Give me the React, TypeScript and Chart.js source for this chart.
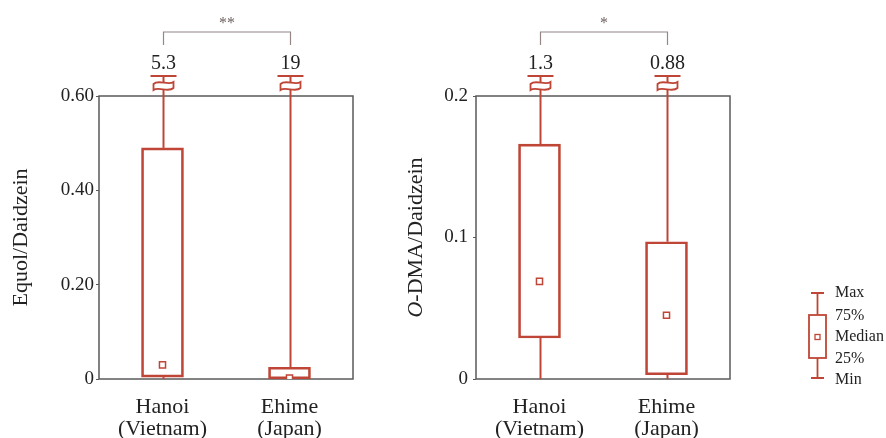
import React, { useEffect, useRef } from "react";
import { Chart, registerables } from "chart.js";
Chart.register(...registerables);

const categories = [["Hanoi", "(Vietnam)"], ["Ehime", "(Japan)"]];

// Equol/Daidzein
const equolMin = [0, 0];
const equolQ1 = [0.004, 0.0005];
const equolMedian = [0.03, 0.002];
const equolQ3 = [0.49, 0.025];
const equolMax = [5.3, 19];
const equolMaxLabels = ["5.3", "19"];
const equolTicks = [0, 0.2, 0.4, 0.6];
const equolTickLabels = ["0", "0.20", "0.40", "0.60"];
const equolSignif = "**";

// O-DMA/Daidzein
const odmaMin = [0, 0];
const odmaQ1 = [0.029, 0.003];
const odmaMedian = [0.069, 0.045];
const odmaQ3 = [0.166, 0.097];
const odmaMax = [1.3, 0.88];
const odmaMaxLabels = ["1.3", "0.88"];
const odmaTicks = [0, 0.1, 0.2];
const odmaTickLabels = ["0", "0.1", "0.2"];
const odmaSignif = "*";

const legendLabels = ["Max", "75%", "Median", "25%", "Min"];

const RED = "#bf4636";
const FRAME = "#5a5a5a";
const TEXT = "#222";
const BRACKET = "#968686";
const SERIF = "'Liberation Serif', 'Times New Roman', serif";

type Params = {
  min: number[]; q1: number[]; median: number[]; q3: number[]; max: number[];
  maxLabels: string[]; ticks: number[]; tickLabels: string[]; signif: string;
  yMax: number; titleParts: { text: string; italic: boolean }[];
  yWidth: number; padRight: number; titleX: number; tickPad: number;
  legend?: { offsetX: number };
};

function makePlugin(p: Params) {
  return {
    id: "boxExtras",
    beforeDatasetsDraw(chart: any) {
      const { ctx, chartArea: a } = chart;
      ctx.save();
      ctx.strokeStyle = FRAME;
      ctx.lineWidth = 1.5;
      ctx.strokeRect(a.left, a.top, a.right - a.left, a.bottom - a.top);
      ctx.restore();
    },
    afterDatasetsDraw(chart: any) {
      const { ctx, chartArea: a, scales } = chart;
      const xs = scales.x, ys = scales.y;
      ctx.save();
      const centers: number[] = [];
      p.max.forEach((mx, i) => {
        const px = Math.round(xs.getPixelForValue(i)) + 0.5;
        centers.push(px);
        const q3 = ys.getPixelForValue(p.q3[i]);
        const q1 = ys.getPixelForValue(p.q1[i]);
        const mn = ys.getPixelForValue(p.min[i]);
        const broken = mx > ys.max;
        const capY = broken ? a.top - 20 : ys.getPixelForValue(mx);
        ctx.strokeStyle = RED;
        ctx.lineWidth = 2;
        ctx.beginPath(); ctx.moveTo(px, q3); ctx.lineTo(px, capY); ctx.stroke();
        if (Math.abs(mn - q1) > 1) { ctx.beginPath(); ctx.moveTo(px, q1); ctx.lineTo(px, mn); ctx.stroke(); }
        if (broken) {
          ctx.beginPath(); ctx.moveTo(px - 13, capY); ctx.lineTo(px + 13, capY); ctx.stroke();
          const g1 = a.top - 15, g2 = a.top - 5, hw = 10;
          ctx.fillStyle = "#fff";
          ctx.lineWidth = 1.8;
          ctx.beginPath();
          ctx.moveTo(px - hw, g1 + 3);
          ctx.bezierCurveTo(px - hw / 2, g1 - 2, px + hw / 2, g1 + 5, px + hw, g1 + 1);
          ctx.lineTo(px + hw, g2 - 3);
          ctx.bezierCurveTo(px + hw / 2, g2 + 2, px - hw / 2, g2 - 5, px - hw, g2 - 1);
          ctx.closePath();
          ctx.fill(); ctx.stroke();
          ctx.fillStyle = TEXT;
          ctx.font = `20px ${SERIF}`;
          ctx.textAlign = "center";
          ctx.textBaseline = "middle";
          ctx.fillText(p.maxLabels[i], px, a.top - 32);
        }
      });
      // significance bracket
      ctx.strokeStyle = BRACKET;
      ctx.lineWidth = 1.2;
      const by = a.top - 64, bEnd = a.top - 51;
      ctx.beginPath();
      ctx.moveTo(centers[0], bEnd); ctx.lineTo(centers[0], by);
      ctx.lineTo(centers[1], by); ctx.lineTo(centers[1], bEnd);
      ctx.stroke();
      ctx.fillStyle = "#6e6262";
      ctx.font = `16px ${SERIF}`;
      ctx.textAlign = "center";
      ctx.textBaseline = "middle";
      ctx.fillText(p.signif, (centers[0] + centers[1]) / 2, a.top - 72);

      // y title
      ctx.save();
      ctx.fillStyle = TEXT;
      ctx.translate(p.titleX, (a.top + a.bottom) / 2);
      ctx.rotate(-Math.PI / 2);
      ctx.textBaseline = "middle";
      ctx.textAlign = "left";
      let total = 0;
      const widths = p.titleParts.map((t) => {
        ctx.font = `${t.italic ? "italic " : ""}22px ${SERIF}`;
        const w = ctx.measureText(t.text).width;
        total += w;
        return w;
      });
      let cx = -total / 2;
      p.titleParts.forEach((t, i) => {
        ctx.font = `${t.italic ? "italic " : ""}22px ${SERIF}`;
        ctx.fillText(t.text, cx, 0);
        cx += widths[i];
      });
      ctx.restore();

      // legend
      if (p.legend) {
        const ox = p.legend.offsetX;
        const lx = 817.5 - ox;
        const ly = [293, 315, 337, 358, 378];
        ctx.strokeStyle = RED;
        ctx.lineWidth = 1.8;
        ctx.beginPath();
        ctx.moveTo(lx - 6.5, ly[0]); ctx.lineTo(lx + 6.5, ly[0]);
        ctx.moveTo(lx, ly[0]); ctx.lineTo(lx, ly[1]);
        ctx.moveTo(lx, ly[3]); ctx.lineTo(lx, ly[4]);
        ctx.moveTo(lx - 6.5, ly[4]); ctx.lineTo(lx + 6.5, ly[4]);
        ctx.stroke();
        ctx.strokeRect(lx - 8.5, ly[1], 17, ly[3] - ly[1]);
        ctx.lineWidth = 1.3;
        ctx.strokeRect(lx - 2.5, ly[2] - 2.5, 5, 5);
        ctx.fillStyle = TEXT;
        ctx.font = `16px ${SERIF}`;
        ctx.textAlign = "left";
        ctx.textBaseline = "middle";
        const ty = [293, 316, 337, 359, 380];
        legendLabels.forEach((t, i) => ctx.fillText(t, 835 - ox, ty[i]));
      }
      ctx.restore();
    },
  };
}

function makeConfig(p: Params): any {
  return {
    type: "bar",
    data: {
      labels: categories,
      datasets: [
        {
          type: "bar",
          data: p.q1.map((v, i) => [v, p.q3[i]]),
          backgroundColor: "rgba(255,255,255,0)",
          borderColor: RED,
          borderWidth: 2,
          borderSkipped: false,
          barThickness: 42,
          order: 2,
        },
        {
          type: "line",
          data: p.median,
          showLine: false,
          pointStyle: "rect",
          pointRadius: 4.3,
          pointBorderWidth: 1.5,
          pointBorderColor: RED,
          pointBackgroundColor: "#fff",
          order: 1,
        },
      ],
    },
    options: {
      responsive: false,
      animation: false,
      layout: { padding: { top: 96, right: p.padRight, bottom: 0, left: 0 } },
      plugins: { legend: { display: false }, tooltip: { enabled: false } },
      scales: {
        x: {
          type: "category",
          offset: true,
          grid: { display: false, drawTicks: false },
          border: { display: false },
          ticks: {
            color: TEXT,
            font: { family: SERIF, size: 22, lineHeight: 1.0 },
            padding: 17,
            maxRotation: 0,
            autoSkip: false,
          },
          afterFit: (s: any) => { s.height = 59; },
        },
        y: {
          min: 0,
          max: p.yMax,
          grid: { drawOnChartArea: false, drawTicks: true, tickLength: 3, color: FRAME },
          border: { display: false },
          afterBuildTicks: (s: any) => { s.ticks = p.ticks.map((v) => ({ value: v })); },
          ticks: {
            color: TEXT,
            font: { family: SERIF, size: 19 },
            padding: p.tickPad,
            callback: (_v: any, i: number) => p.tickLabels[i],
          },
          afterFit: (s: any) => { s.width = p.yWidth; },
        },
      },
    },
    plugins: [makePlugin(p)],
  };
}

const leftParams: Params = {
  min: equolMin, q1: equolQ1, median: equolMedian, q3: equolQ3, max: equolMax,
  maxLabels: equolMaxLabels, ticks: equolTicks, tickLabels: equolTickLabels, signif: equolSignif,
  yMax: 0.6, titleParts: [{ text: "Equol/Daidzein", italic: false }],
  yWidth: 99, padRight: 37, titleX: 21, tickPad: 2,
};

const rightParams: Params = {
  min: odmaMin, q1: odmaQ1, median: odmaMedian, q3: odmaQ3, max: odmaMax,
  maxLabels: odmaMaxLabels, ticks: odmaTicks, tickLabels: odmaTickLabels, signif: odmaSignif,
  yMax: 0.2, titleParts: [{ text: "O", italic: true }, { text: "-DMA/Daidzein", italic: false }],
  yWidth: 86, padRight: 156, titleX: 26, tickPad: 5,
  legend: { offsetX: 390 },
};

function BoxChart({ params, width, left }: { params: Params; width: number; left: number }) {
  const ref = useRef<HTMLCanvasElement | null>(null);
  useEffect(() => {
    if (!ref.current) return;
    const chart = new Chart(ref.current, makeConfig(params));
    return () => chart.destroy();
  }, [params]);
  return (
    <canvas
      ref={ref}
      width={width}
      height={438}
      style={{ position: "absolute", left, top: 0, width, height: 438 }}
    />
  );
}

export default function App() {
  return (
    <div style={{ position: "fixed", left: 0, top: 0, width: 886, height: 438, background: "#fff", overflow: "hidden" }}>
      <BoxChart params={leftParams} width={390} left={0} />
      <BoxChart params={rightParams} width={496} left={390} />
    </div>
  );
}
